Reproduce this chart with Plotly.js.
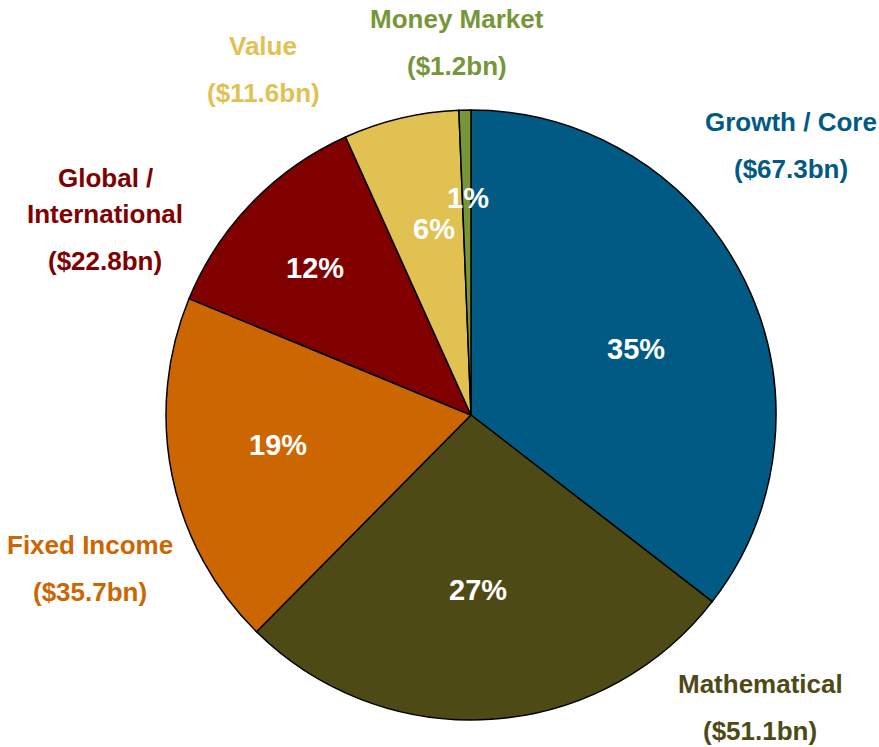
<!DOCTYPE html>
<html>
<head>
<meta charset="utf-8">
<script src="https://cdn.plot.ly/plotly-3.0.1.min.js"></script>
<style>html,body{margin:0;padding:0;background:#fff;}#chart{width:879px;height:747px;}</style>
</head>
<body>
<div id="chart"></div>
<script>
// ---- data ----
var categories = ["Growth / Core", "Mathematical", "Fixed Income", "Global /\nInternational", "Value", "Money Market"];
var assetsBn = [67.3, 51.1, 35.7, 22.8, 11.6, 1.2];
var sliceColors = ["#005A84", "#4D4A16", "#CC6600", "#800000", "#E1C152", "#77963A"];

// ---- layout helpers (pixel positions of text labels) ----
var W = 879, H = 747;
var nameLabelPos = [[791, 122], [760, 684], [90, 545], [105, 178], [263, 46], [457, 19]];
var pctLabelPos = [[636, 349], [478, 590], [278, 445], [315, 268], [434, 229], [468, 198]];
var nameLineStep = 36, valueLineStep = 47;

var total = assetsBn.reduce(function(a, b){ return a + b; }, 0);
var fontFam = "Liberation Sans, Arial, sans-serif";

function px2paper(p){ return {x: p[0] / W, y: 1 - p[1] / H}; }

var annotations = [];
categories.forEach(function(cat, i){
  var lines = cat.split("\n");
  var y = nameLabelPos[i][1];
  lines.forEach(function(line, k){
    if (k > 0) y += nameLineStep;
    var p = px2paper([nameLabelPos[i][0], y]);
    annotations.push({x: p.x, y: p.y, xref: "paper", yref: "paper", text: "<b>" + line + "</b>",
      showarrow: false, xanchor: "center", yanchor: "middle",
      font: {family: fontFam, size: 26, color: sliceColors[i]}});
  });
  y += valueLineStep;
  var pv = px2paper([nameLabelPos[i][0], y]);
  annotations.push({x: pv.x, y: pv.y, xref: "paper", yref: "paper",
    text: "<b>($" + assetsBn[i].toFixed(1) + "bn)</b>",
    showarrow: false, xanchor: "center", yanchor: "middle",
    font: {family: fontFam, size: 26, color: sliceColors[i]}});
  var pp = px2paper(pctLabelPos[i]);
  annotations.push({x: pp.x, y: pp.y, xref: "paper", yref: "paper",
    text: "<b>" + Math.round(assetsBn[i] / total * 100) + "%</b>",
    showarrow: false, xanchor: "center", yanchor: "middle",
    font: {family: fontFam, size: 29, color: "#FFFFFF"}});
});

var trace = {
  type: "pie",
  labels: categories,
  values: assetsBn,
  sort: false,
  direction: "clockwise",
  rotation: 0,
  textinfo: "none",
  hoverinfo: "none",
  marker: {colors: sliceColors, line: {color: "#000000", width: 1.5}},
  domain: {x: [166 / W, 776 / W], y: [1 - 720 / H, 1 - 110 / H]},
  showlegend: false
};

var layout = {
  width: W, height: H,
  margin: {l: 0, r: 0, t: 0, b: 0},
  paper_bgcolor: "#FFFFFF",
  showlegend: false,
  annotations: annotations
};

Plotly.newPlot("chart", [trace], layout, {displayModeBar: false, staticPlot: true});
</script>
</body>
</html>
